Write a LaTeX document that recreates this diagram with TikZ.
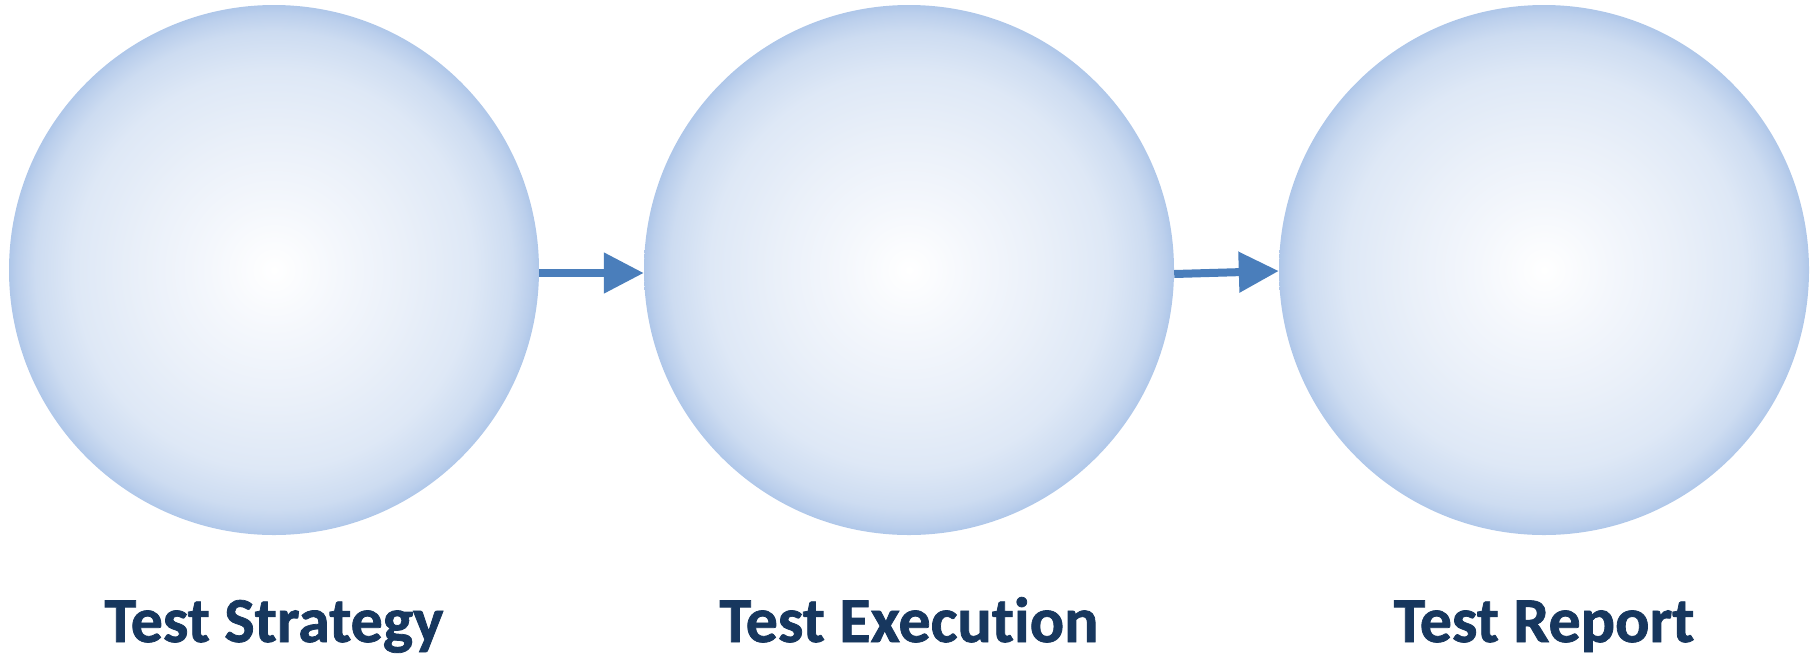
\documentclass[tikz,border=0pt]{standalone}
\usepackage{fontspec}
\setmainfont{Carlito}
\newfontfamily\capfont{Carlito}[Ligatures=NoCommon, BoldFeatures={FakeBold=1.2}]
\usetikzlibrary{arrows.meta}

\definecolor{rimblue}{HTML}{AFC7E9}
\definecolor{edgeblue}{HTML}{BBCFEC}
\definecolor{ringblue}{HTML}{CDDCF1}
\definecolor{midblue}{HTML}{DEE8F6}
\definecolor{paleblue}{HTML}{EAF0F9}
\definecolor{coreblue}{HTML}{F4F7FC}
\definecolor{arrowblue}{HTML}{4A7EBB}
\definecolor{labelnavy}{HTML}{17375E}

% soft bubble: white core fading out to a light blue rim
\pgfdeclareradialshading{bubble}{\pgfpoint{0bp}{0bp}}{%
  color(0bp)=(white);
  color(6.25bp)=(coreblue);
  color(12.5bp)=(paleblue);
  color(18.75bp)=(midblue);
  color(22.5bp)=(ringblue);
  color(24.25bp)=(edgeblue);
  color(25bp)=(rimblue);
  color(50bp)=(rimblue)}

\tikzset{
  stage/.style={circle, minimum size=530pt, inner sep=0pt, shading=bubble},
  flow/.style={draw=arrowblue, line width=8pt,
    -{Triangle[length=40pt, width=39pt]}},
  caption/.style={anchor=base, text=labelnavy,
    font=\capfont\fontsize{64}{76}\selectfont\bfseries}
}

\begin{document}
\begin{tikzpicture}[x=1pt, y=-1pt]
  \useasboundingbox (0,0) rectangle (1820,657);

  \node[stage] (strategy)  at (274,270) {};
  \node[stage] (execution) at (909,270) {};
  \node[stage] (report)    at (1544,270) {};

  \draw[flow] ([yshift=-3pt]strategy.east) -- ([yshift=-3pt]execution.west);
  \draw[flow] ([yshift=-4pt]execution.east) -- ([yshift=-1pt]report.west);

  \node[caption] (lstrategy)  at (274,642)  {Test Strategy};
  \node[caption] (lexecution) at (909,642)  {Test Execution};
  \node[caption] (lreport)    at (1544,642) {Test Report};
\end{tikzpicture}
\end{document}
